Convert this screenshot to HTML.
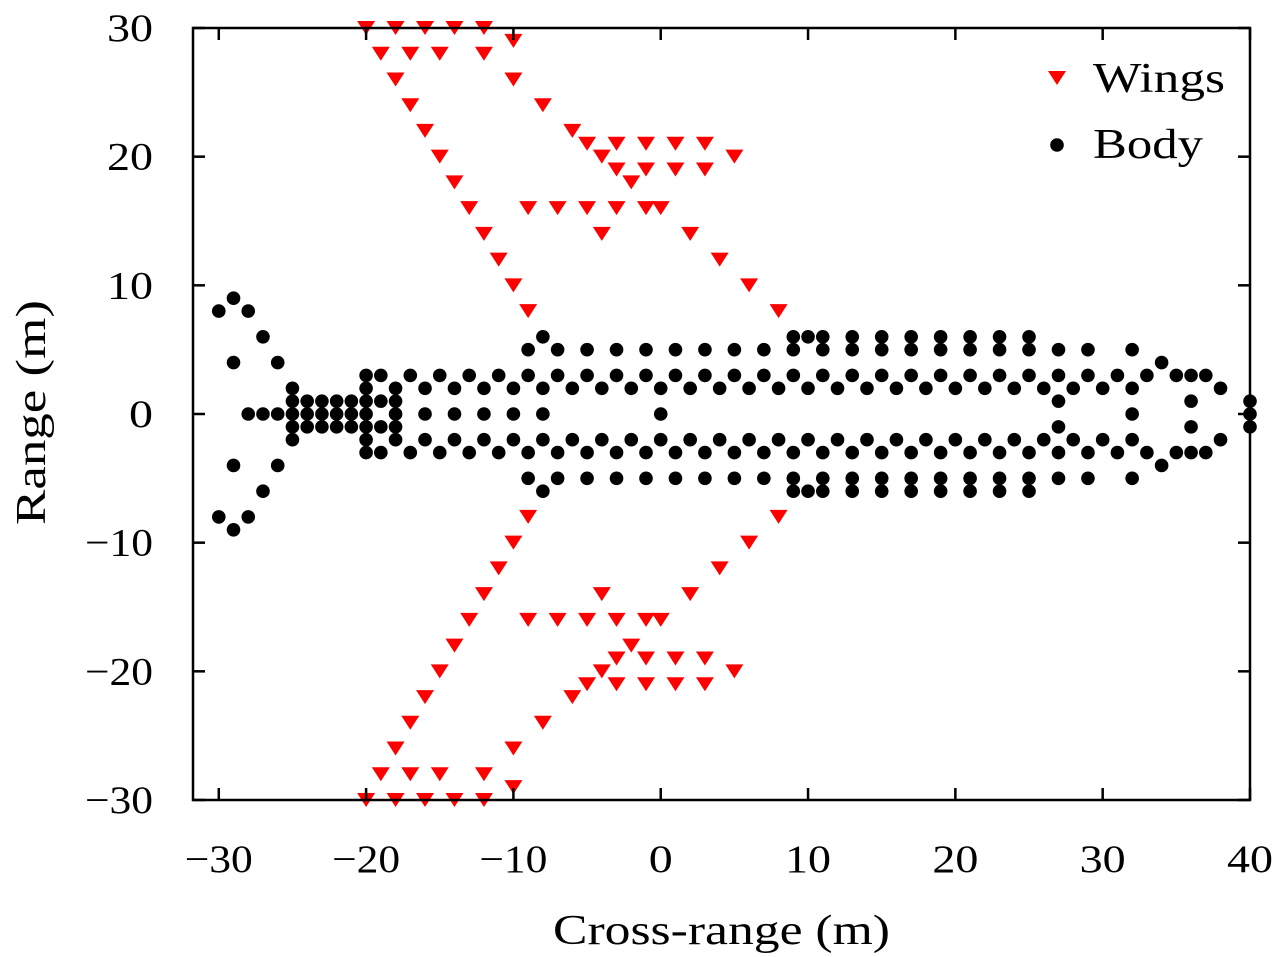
<!DOCTYPE html>
<html><head><meta charset="utf-8"><style>
html,body{margin:0;padding:0;background:#fff;}
svg{display:block;font-family:"Liberation Serif",serif;}
</style></head><body>
<svg id="chart" width="1280" height="957" viewBox="0 0 1280 957" xmlns="http://www.w3.org/2000/svg">
<g id="marks"></g>
<rect x="193" y="28" width="1057" height="772" fill="none" stroke="#000" stroke-width="2.5"/>
<g id="axes"></g>
<text x="553" y="944" font-size="42" textLength="337" lengthAdjust="spacingAndGlyphs">Cross-range (m)</text>
<text transform="translate(45,525) rotate(-90)" font-size="42" textLength="225" lengthAdjust="spacingAndGlyphs">Range (m)</text>
<g>
  <g>
    <polygon points="1048,71 1066,71 1057,85" fill="#f00"/>
    <text x="1093" y="92" font-size="42" textLength="132" lengthAdjust="spacingAndGlyphs">Wings</text>
  </g>
  <g>
    <circle cx="1057" cy="145" r="6.8" fill="#000"/>
    <text x="1093" y="158" font-size="42" textLength="110" lengthAdjust="spacingAndGlyphs">Body</text>
  </g>
</g>
</svg>
<script>
const xTicks = [-30,-20,-10,0,10,20,30,40];
const yTicks = [-30,-20,-10,0,10,20,30];
const bodyRows = [
  [9,[-29]],
  [8,[-30,-28]],
  [6,[-27,-8,9,10,11,13,15,17,19,21,23,25]],
  [5,[-9,-7,-5,-3,-1,1,3,5,7,9,11,13,15,17,19,21,23,25,27,29,32]],
  [4,[-29,-26,34]],
  [3,[-20,-19,-17,-15,-13,-11,-9,-7,-5,-3,-1,1,3,5,7,9,11,13,15,17,19,21,23,25,27,29,31,33,35,36,37]],
  [2,[-25,-20,-18,-16,-14,-12,-10,-8,-6,-4,-2,0,2,4,6,8,10,12,14,16,18,20,22,24,26,28,30,32,38]],
  [1,[-25,-24,-23,-22,-21,-20,-19,-18,27,36,40]],
  [0,[-28,-27,-26,-25,-24,-23,-22,-21,-20,-18,-16,-14,-12,-10,-8,0,32,40]],
  [-1,[-25,-24,-23,-22,-21,-20,-19,-18,27,36,40]],
  [-2,[-25,-20,-18,-16,-14,-12,-10,-8,-6,-4,-2,0,2,4,6,8,10,12,14,16,18,20,22,24,26,28,30,32,38]],
  [-3,[-20,-19,-17,-15,-13,-11,-9,-7,-5,-3,-1,1,3,5,7,9,11,13,15,17,19,21,23,25,27,29,31,33,35,36,37]],
  [-4,[-29,-26,34]],
  [-5,[-9,-7,-5,-3,-1,1,3,5,7,9,11,13,15,17,19,21,23,25,27,29,32]],
  [-6,[-27,-8,9,10,11,13,15,17,19,21,23,25]],
  [-8,[-30,-28]],
  [-9,[-29]]
];
const wingRows = [
  [30,[-20,-18,-16,-14,-12]],
  [29,[-10]],
  [28,[-19,-17,-15,-12]],
  [26,[-18,-10]],
  [24,[-17,-8]],
  [22,[-16,-6]],
  [21,[-5,-3,-1,1,3]],
  [20,[-15,-4,5]],
  [19,[-3,-1,1,3]],
  [18,[-14,-2]],
  [16,[-13,-9,-7,-5,-3,-1,0]],
  [14,[-12,-4,2]],
  [12,[-11,4]],
  [10,[-10,6]],
  [8,[-9,8]],
  [-8,[-9,8]],
  [-10,[-10,6]],
  [-12,[-11,4]],
  [-14,[-12,-4,2]],
  [-16,[-13,-9,-7,-5,-3,-1,0]],
  [-18,[-14,-2]],
  [-19,[-3,-1,1,3]],
  [-20,[-15,-4,5]],
  [-21,[-5,-3,-1,1,3]],
  [-22,[-16,-6]],
  [-24,[-17,-8]],
  [-26,[-18,-10]],
  [-28,[-19,-17,-15,-12]],
  [-29,[-10]],
  [-30,[-20,-18,-16,-14,-12]]
];
const X0=-31.75, X1=40, Y0=-30, Y1=30;
const L=193, R=1250, T=28, B=800;
function sx(v){return L+(v-X0)/(X1-X0)*(R-L);}
function sy(v){return B-(v-Y0)/(Y1-Y0)*(B-T);}
const NS="http://www.w3.org/2000/svg";
const marks=document.getElementById('marks');
const axes=document.getElementById('axes');
function mk(tag,attrs,parent){const e=document.createElementNS(NS,tag);for(const k in attrs)e.setAttribute(k,attrs[k]);parent.appendChild(e);return e;}
bodyRows.forEach(function(row){
  row[1].forEach(function(x){
    const c=mk('circle',{cx:sx(x),cy:sy(row[0]),r:6.8,fill:'#000'},marks);
    
    
  });
});
wingRows.forEach(function(row){
  row[1].forEach(function(x){
    const px=sx(x), py=sy(row[0]);
    const p=mk('polygon',{points:(px-9)+','+(py-7)+' '+(px+9)+','+(py-7)+' '+px+','+(py+7),fill:'#f00'},marks);
    
    
  });
});
function fmt(v){return v<0?'\u2212'+(-v):String(v);}
xTicks.forEach(function(v){
  const x=sx(v);
  const t1=mk('line',{x1:x,y1:B,x2:x,y2:B-12,stroke:'#000','stroke-width':2.5},axes);
  
  
  const t2=mk('line',{x1:x,y1:T,x2:x,y2:T+12,stroke:'#000','stroke-width':2.5},axes);
  
  
  const s=fmt(v);
  const w=(v<0?68:(v===0?24:46));
  const lb=mk('text',{x:x-w/2,y:872,'font-size':39,textLength:w,lengthAdjust:'spacingAndGlyphs'},axes);
  lb.textContent=s;
  
  
});
yTicks.forEach(function(v){
  const y=sy(v);
  const t1=mk('line',{x1:L,y1:y,x2:L+12,y2:y,stroke:'#000','stroke-width':2.5},axes);
  
  
  const t2=mk('line',{x1:R,y1:y,x2:R-12,y2:y,stroke:'#000','stroke-width':2.5},axes);
  
  
  const s=fmt(v);
  const w=(v<0?68:(v===0?24:46));
  const lb=mk('text',{x:153-w,y:y+13,'font-size':39,textLength:w,lengthAdjust:'spacingAndGlyphs'},axes);
  lb.textContent=s;
  
  
});
</script>
</body></html>
